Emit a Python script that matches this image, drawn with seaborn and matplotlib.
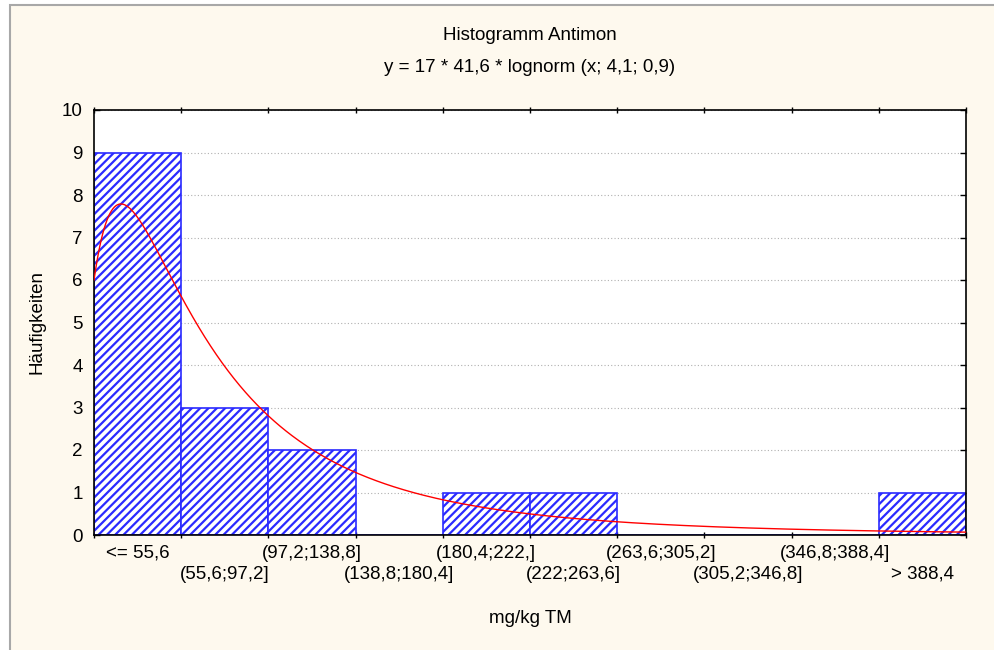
import numpy as np
import pandas as pd
import matplotlib
matplotlib.use("Agg")
import matplotlib.pyplot as plt
from matplotlib.patches import Rectangle
from matplotlib.ticker import FixedLocator, NullFormatter
from matplotlib.transforms import offset_copy
import seaborn as sns

# Class labels and counts of the histogram
categories = ["<= 55,6", "(55,6;97,2]", "(97,2;138,8]", "(138,8;180,4]", "(180,4;222,]",
              "(222;263,6]", "(263,6;305,2]", "(305,2;346,8]", "(346,8;388,4]", "> 388,4"]
counts = [9, 3, 2, 0, 1, 1, 0, 0, 0, 1]

# Class layout in mg/kg
first_edge = 14.0
class_width = 41.6

# Fitted log-normal curve: y = n * width * lognorm(x; mu, sigma)
n_obs = 17
mu = 4.1
sigma = 0.9

y_ticks = list(range(0, 11))

sns.set_theme(style="white")
plt.rcParams["font.family"] = ["Liberation Sans", "DejaVu Sans"]
plt.rcParams["hatch.linewidth"] = 1.6
plt.rcParams["text.color"] = "black"
plt.rcParams["axes.labelcolor"] = "black"
plt.rcParams["xtick.color"] = "black"
plt.rcParams["ytick.color"] = "black"

bg = "#FEF9EE"
blue = "#2A2AFF"
fs = 13.5

fig = plt.figure(figsize=(9.94, 6.5), dpi=100, facecolor="white")
fig.patches.append(Rectangle((10 / 994, -0.01), 1.0, 1 - 5 / 650 + 0.01,
                             transform=fig.transFigure, facecolor=bg,
                             edgecolor="#A8A8A8", linewidth=1.5, zorder=-10))

ax = fig.add_axes([94 / 994, 1 - 535 / 650, (966 - 94) / 994, (535 - 110) / 650])
ax.set_facecolor("white")

edges = first_edge + class_width * np.arange(len(counts) + 1)
centers = (edges[:-1] + edges[1:]) / 2
df = pd.DataFrame({"center": centers, "count": counts})

sns.barplot(data=df, x="center", y="count", native_scale=True, width=1.0,
            color="white", edgecolor=blue, linewidth=1.2, hatch="////",
            saturation=1, ax=ax, zorder=2)

xs = np.linspace(edges[0], edges[-1], 600)
ys = n_obs * class_width / (xs * sigma * np.sqrt(2 * np.pi)) * \
    np.exp(-(np.log(xs) - mu) ** 2 / (2 * sigma ** 2))
sns.lineplot(x=xs, y=ys, color="red", linewidth=1.0, ax=ax, zorder=3)

ax.set_xlim(edges[0], edges[-1])
ax.set_ylim(0, 10)
ax.set_yticks(y_ticks)
ax.yaxis.grid(True, linestyle=(0, (1, 2)), color="#B0B0B0", linewidth=0.8, zorder=0)
ax.set_axisbelow(True)

# Tick marks at the class boundaries, class labels in two staggered rows
ax.set_xticks(centers)
ax.xaxis.set_major_formatter(NullFormatter())
ax.xaxis.set_minor_locator(FixedLocator(edges))
ax.tick_params(axis="x", which="major", length=0)
ax.tick_params(axis="x", which="minor", direction="inout", length=5, width=1,
               color="black", top=True, bottom=True)
ax.tick_params(axis="y", which="major", direction="in", length=4, width=1,
               color="black", left=True, right=True, pad=8, labelsize=fs)

xform = ax.get_xaxis_transform()
for i, (c, lab) in enumerate(zip(centers, categories)):
    dy = -7 if i % 2 == 0 else -22
    ax.text(c, 0, lab, transform=offset_copy(xform, fig=fig, y=dy, units="points"),
            ha="center", va="top", fontsize=fs, color="black")

for s in ax.spines.values():
    s.set_color("black")
    s.set_linewidth(1.2)
    s.set_visible(True)

ax.set_xlabel("mg/kg TM", fontsize=fs, labelpad=48)
ax.set_ylabel("Häufigkeiten", fontsize=fs, labelpad=12)

fig.text(530 / 994, 1 - 35 / 650, "Histogramm Antimon", ha="center", va="center", fontsize=fs)
fig.text(530 / 994, 1 - 68 / 650, "y = 17 * 41,6 * lognorm (x; 4,1; 0,9)",
         ha="center", va="center", fontsize=fs)

fig.savefig("out.png", dpi=100, facecolor=fig.get_facecolor())
